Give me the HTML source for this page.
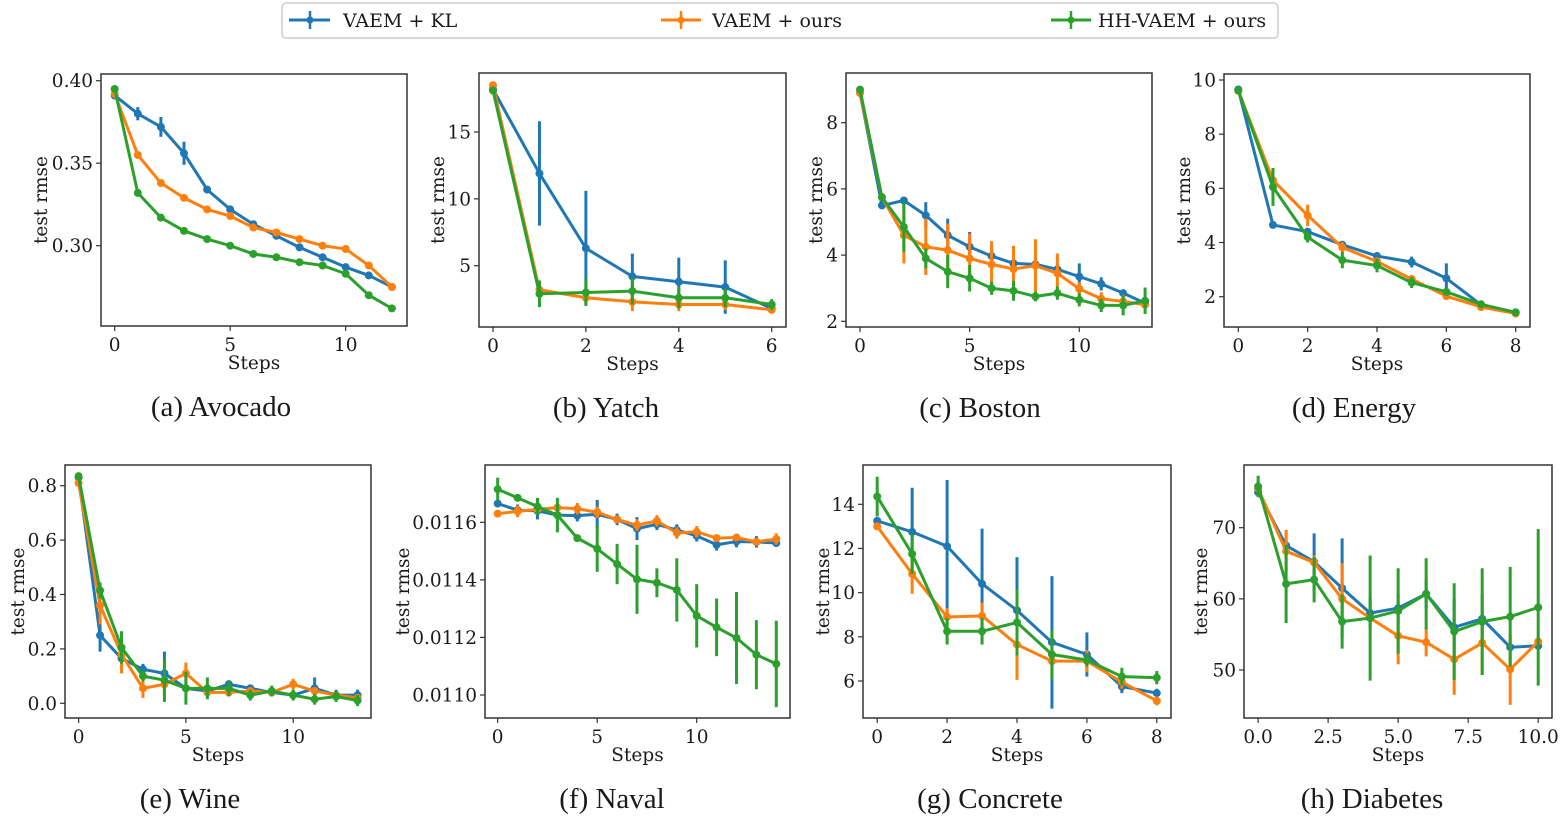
<!DOCTYPE html>
<html><head><meta charset="utf-8"><style>
html,body{margin:0;padding:0;background:#fff;}
svg{display:block;}
text{font-family:"DejaVu Serif","Liberation Serif",serif;fill:#1a1a1a;}
.cap{font-family:"Liberation Serif",serif;font-size:29px;}
</style></head><body>
<svg id="fig" width="1565" height="831" viewBox="0 0 1565 831">
<g>
<rect x="282" y="3" width="996" height="35" rx="4" fill="#fff" stroke="#ccc" stroke-width="1.5"/>
<g><line x1="289" y1="20" x2="330" y2="20" stroke="#1f77b4" stroke-width="3"/><line x1="310" y1="11" x2="310" y2="29" stroke="#1f77b4" stroke-width="2.5"/><circle cx="310" cy="20" r="3.5" fill="#1f77b4"/><text x="343" y="27" font-size="19">VAEM + KL</text></g>
<g><line x1="661" y1="20" x2="701" y2="20" stroke="#ff7f0e" stroke-width="3"/><line x1="681" y1="11" x2="681" y2="29" stroke="#ff7f0e" stroke-width="2.5"/><circle cx="681" cy="20" r="3.5" fill="#ff7f0e"/><text x="712" y="27" font-size="19">VAEM + ours</text></g>
<g><line x1="1051" y1="20" x2="1091" y2="20" stroke="#2ca02c" stroke-width="3"/><line x1="1071" y1="11" x2="1071" y2="29" stroke="#2ca02c" stroke-width="2.5"/><circle cx="1071" cy="20" r="3.5" fill="#2ca02c"/><text x="1098" y="27" font-size="19">HH-VAEM + ours</text></g>
</g>
</svg>
<script>
// ---- data ----
const avocadoSteps=[0,1,2,3,4,5,6,7,8,9,10,11,12];
const avocadoKL=[.391,.380,.372,.356,.334,.322,.313,.306,.299,.293,.287,.282,.275];
const avocadoKLErr=[0,.004,.006,.007,.002,.001,.001,.001,.001,.002,.001,.001,.001];
const avocadoOurs=[.392,.355,.338,.329,.322,.318,.311,.308,.304,.300,.298,.288,.275];
const avocadoOursErr=[0,.001,.001,.001,.001,.001,.001,.001,.001,.001,.001,.001,.002];
const avocadoHH=[.395,.332,.317,.309,.304,.300,.295,.293,.290,.288,.283,.270,.262];
const avocadoHHErr=[.001,.001,.002,.002,.001,.001,.001,.001,.001,.002,.002,.001,.001];

const yatchSteps=[0,1,2,3,4,5,6];
const yatchKL=[18.2,11.9,6.3,4.2,3.8,3.4,1.8];
const yatchKLErr=[0,3.9,4.3,1.7,1.8,2.0,0.3];
const yatchOurs=[18.5,3.2,2.6,2.3,2.1,2.1,1.7];
const yatchOursErr=[0,0.3,0.5,0.7,0.5,0.4,0.2];
const yatchHH=[18.1,2.9,3.0,3.1,2.6,2.6,2.1];
const yatchHHErr=[0,1.0,1.0,1.0,0.8,0.7,0.4];

const bostonSteps=[0,1,2,3,4,5,6,7,8,9,10,11,12,13];
const bostonKL=[8.9,5.5,5.65,5.2,4.6,4.25,3.97,3.75,3.72,3.57,3.35,3.13,2.85,2.55];
const bostonKLErr=[0,.1,.05,.4,.5,.45,.3,.2,.2,.2,.4,.2,.1,.1];
const bostonOurs=[8.9,5.75,4.6,4.25,4.15,3.9,3.72,3.58,3.68,3.45,2.98,2.68,2.6,2.5];
const bostonOursErr=[0,.1,.85,.85,.8,.75,.7,.7,.8,.6,.2,.2,.2,.1];
const bostonHH=[9.0,5.75,4.85,3.9,3.5,3.3,3.0,2.92,2.75,2.85,2.65,2.48,2.48,2.62];
const bostonHHErr=[0,.1,.75,.3,.5,.4,.2,.3,.15,.2,.2,.2,.3,.4];

const energySteps=[0,1,2,3,4,5,6,7,8];
const energyKL=[9.65,4.65,4.4,3.92,3.5,3.28,2.68,1.7,1.42];
const energyKLErr=[0,.05,.1,.1,.15,.2,.55,.05,.05];
const energyOurs=[9.6,6.3,5.0,3.82,3.3,2.65,2.02,1.62,1.38];
const energyOursErr=[0,.45,.4,.2,.15,.15,.1,.05,.05];
const energyHH=[9.62,6.05,4.2,3.35,3.15,2.52,2.18,1.72,1.42];
const energyHHErr=[0,.7,.2,.3,.25,.2,.1,.05,.05];

const wineSteps=[0,1,2,3,4,5,6,7,8,9,10,11,12,13];
const wineKL=[.83,.25,.165,.125,.11,.055,.045,.07,.055,.04,.03,.055,.03,.03];
const wineKLErr=[0,.06,.02,.02,.08,.01,.01,.01,.01,.005,.005,.04,.02,.02];
const wineOurs=[.81,.36,.18,.055,.07,.11,.04,.04,.045,.04,.07,.045,.03,.02];
const wineOursErr=[0,.07,.07,.035,.02,.04,.005,.005,.01,.005,.02,.01,.01,.01];
const wineHH=[.835,.415,.205,.1,.085,.055,.055,.055,.03,.045,.03,.015,.025,.01];
const wineHHErr=[0,.03,.06,.02,.08,.06,.04,.03,.02,.02,.02,.02,.02,.02];

const navalSteps=[0,1,2,3,4,5,6,7,8,9,10,11,12,13,14];
const navalKL=[.011665,.011642,.011640,.011625,.011623,.011628,.011610,.011578,.011593,.011573,.011553,.011522,.011533,.011532,.011528];
const navalKLErr=[.00001,.00002,.00003,.00001,.00002,.00005,.00002,.00004,.00002,.00002,.00002,.00002,.00002,.00002,.00001];
const navalOurs=[.011630,.011638,.011645,.011651,.011647,.011635,.011610,.011590,.011605,.011563,.011567,.011545,.011547,.011532,.011542];
const navalOursErr=[.00001,.00002,.00001,.00001,.00002,.00002,.00001,.00002,.00002,.00002,.00002,.00001,.00001,.00001,.00002];
const navalHH=[.011715,.011685,.011655,.011625,.011545,.011508,.011455,.011402,.011390,.011365,.011275,.011235,.011198,.011140,.011108];
const navalHHErr=[.00004,.00001,.00003,.00006,.00001,.00008,.00007,.00012,.00005,.00011,.00011,.0001,.00016,.00012,.00015];

const concreteSteps=[0,1,2,3,4,5,6,7,8];
const concreteKL=[13.25,12.75,12.1,10.4,9.2,7.75,7.2,5.75,5.45];
const concreteKLErr=[0,2.0,3.0,2.5,2.4,3.0,1.0,0.3,0.2];
const concreteOurs=[13.0,10.85,8.9,8.95,7.65,6.9,6.9,5.95,5.1];
const concreteOursErr=[0,0.9,0.4,0.6,1.6,0.8,0.5,0.3,0.2];
const concreteHH=[14.35,11.75,8.25,8.25,8.65,7.2,6.95,6.2,6.15];
const concreteHHErr=[0.9,0.9,0.6,0.6,1.5,1.1,0.3,0.4,0.3];

const diabetesSteps=[0,1,2,3,4,5,6,7,8,9,10];
const diabetesKL=[75,67.5,65.2,61.5,58,58.7,60.7,56,57.2,53.2,53.4];
const diabetesKLErr=[0.5,1,4,7,2,2,2,4,3.5,0.5,0.5];
const diabetesOurs=[75.5,66.7,65.1,60,57.3,54.8,53.9,51.5,53.8,50.1,54];
const diabetesOursErr=[0,3,1,5,0.5,4,2,5,4.5,5,0.5];
const diabetesHH=[75.8,62.1,62.7,56.8,57.3,58.3,60.7,55.4,56.8,57.5,58.8];
const diabetesHHErr=[1.5,5.5,3.2,3.8,8.8,6,5,6.8,7.5,7,11];

const avocadoYTicks=[0.30,0.35,0.40]; const avocadoYLabels=["0.30","0.35","0.40"];
const avocadoXTicks=[0,5,10]; const avocadoXLabels=["0","5","10"];
const yatchYTicks=[5,10,15]; const yatchYLabels=["5","10","15"];
const yatchXTicks=[0,2,4,6]; const yatchXLabels=["0","2","4","6"];
const bostonYTicks=[2,4,6,8]; const bostonYLabels=["2","4","6","8"];
const bostonXTicks=[0,5,10]; const bostonXLabels=["0","5","10"];
const energyYTicks=[2,4,6,8,10]; const energyYLabels=["2","4","6","8","10"];
const energyXTicks=[0,2,4,6,8]; const energyXLabels=["0","2","4","6","8"];
const wineYTicks=[0,0.2,0.4,0.6,0.8]; const wineYLabels=["0.0","0.2","0.4","0.6","0.8"];
const wineXTicks=[0,5,10]; const wineXLabels=["0","5","10"];
const navalYTicks=[0.011,0.0112,0.0114,0.0116]; const navalYLabels=["0.0110","0.0112","0.0114","0.0116"];
const navalXTicks=[0,5,10]; const navalXLabels=["0","5","10"];
const concreteYTicks=[6,8,10,12,14]; const concreteYLabels=["6","8","10","12","14"];
const concreteXTicks=[0,2,4,6,8]; const concreteXLabels=["0","2","4","6","8"];
const diabetesYTicks=[50,60,70]; const diabetesYLabels=["50","60","70"];
const diabetesXTicks=[0,2.5,5,7.5,10]; const diabetesXLabels=["0.0","2.5","5.0","7.5","10.0"];

// ---- layout ----
const panels=[
 {id:'avocado',cap:'(a)  Avocado',capx:221,box:[101,74,407,326],xd:[0,10],xr:[114.7,345.7],yd:[0.30,0.40],yr:[245.7,80.7],ylx:47,
  steps:avocadoSteps,s:[[avocadoKL,avocadoKLErr],[avocadoOurs,avocadoOursErr],[avocadoHH,avocadoHHErr]],yt:avocadoYTicks,yl:avocadoYLabels,xt:avocadoXTicks,xl:avocadoXLabels},
 {id:'yatch',cap:'(b)  Yatch',capx:606,box:[479,73,786,327],xd:[0,6],xr:[493,771.7],yd:[5,15],yr:[265.7,132],ylx:444,
  steps:yatchSteps,s:[[yatchKL,yatchKLErr],[yatchOurs,yatchOursErr],[yatchHH,yatchHHErr]],yt:yatchYTicks,yl:yatchYLabels,xt:yatchXTicks,xl:yatchXLabels},
 {id:'boston',cap:'(c)  Boston',capx:980,box:[846,73,1152,327],xd:[0,10],xr:[860,1079.3],yd:[2,8],yr:[321.3,122.7],ylx:822,
  steps:bostonSteps,s:[[bostonKL,bostonKLErr],[bostonOurs,bostonOursErr],[bostonHH,bostonHHErr]],yt:bostonYTicks,yl:bostonYLabels,xt:bostonXTicks,xl:bostonXLabels},
 {id:'energy',cap:'(d)  Energy',capx:1354,box:[1224,74,1530,327],xd:[0,8],xr:[1238.3,1515.7],yd:[2,10],yr:[296.7,80],ylx:1190,
  steps:energySteps,s:[[energyKL,energyKLErr],[energyOurs,energyOursErr],[energyHH,energyHHErr]],yt:energyYTicks,yl:energyYLabels,xt:energyXTicks,xl:energyXLabels},
 {id:'wine',cap:'(e)  Wine',capx:190,box:[65,465,371,718],xd:[0,10],xr:[78.6,293.2],yd:[0,0.8],yr:[703.3,485.7],ylx:24,
  steps:wineSteps,s:[[wineKL,wineKLErr],[wineOurs,wineOursErr],[wineHH,wineHHErr]],yt:wineYTicks,yl:wineYLabels,xt:wineXTicks,xl:wineXLabels},
 {id:'naval',cap:'(f)  Naval',capx:612,box:[485,465,790,718],xd:[0,10],xr:[497.7,696.7],yd:[0.011,0.0116],yr:[695,522.3],ylx:409,
  steps:navalSteps,s:[[navalKL,navalKLErr],[navalOurs,navalOursErr],[navalHH,navalHHErr]],yt:navalYTicks,yl:navalYLabels,xt:navalXTicks,xl:navalXLabels},
 {id:'concrete',cap:'(g)  Concrete',capx:990,box:[863,465,1171,718],xd:[0,8],xr:[877.2,1156.8],yd:[6,14],yr:[681,504.3],ylx:829,
  steps:concreteSteps,s:[[concreteKL,concreteKLErr],[concreteOurs,concreteOursErr],[concreteHH,concreteHHErr]],yt:concreteYTicks,yl:concreteYLabels,xt:concreteXTicks,xl:concreteXLabels},
 {id:'diabetes',cap:'(h)  Diabetes',capx:1372,box:[1244,465,1552,718],xd:[0,10],xr:[1258.1,1538.2],yd:[50,70],yr:[670,527.7],ylx:1207,
  steps:diabetesSteps,s:[[diabetesKL,diabetesKLErr],[diabetesOurs,diabetesOursErr],[diabetesHH,diabetesHHErr]],yt:diabetesYTicks,yl:diabetesYLabels,xt:diabetesXTicks,xl:diabetesXLabels}
];
const colors=['#1f77b4','#ff7f0e','#2ca02c'];
const seriesNames=['vaem-kl','vaem-ours','hhvaem-ours'];
const NS='http://www.w3.org/2000/svg';
const fig=document.getElementById('fig');
function mk(tag,attrs,parent){const e=document.createElementNS(NS,tag);for(const k in attrs)e.setAttribute(k,attrs[k]);parent.appendChild(e);return e;}
panels.forEach(p=>{
 const sx=v=>p.xr[0]+(v-p.xd[0])*(p.xr[1]-p.xr[0])/(p.xd[1]-p.xd[0]);
 const sy=v=>p.yr[0]+(v-p.yd[0])*(p.yr[1]-p.yr[0])/(p.yd[1]-p.yd[0]);
 const [x0,y0,x1,y1]=p.box;
 const g=mk('g',{},fig);
 
 
 const clipId='clip-'+p.id;
 const cp=mk('clipPath',{id:clipId},g);mk('rect',{x:x0,y:y0,width:x1-x0,height:y1-y0},cp);
 const plot=mk('g',{'clip-path':'url(#'+clipId+')'},g);
 
 
 p.s.forEach((ser,si)=>{
  const [vals,errs]=ser;const c=colors[si];
  const sg=mk('g',{},plot);
  
  
  vals.forEach((v,i)=>{if(errs[i]>0){const eb=mk('line',{x1:sx(p.steps[i]),x2:sx(p.steps[i]),y1:sy(v-errs[i]),y2:sy(v+errs[i]),stroke:c,'stroke-width':3},sg);
   
   }});
  const pts=vals.map((v,i)=>sx(p.steps[i]).toFixed(2)+','+sy(v).toFixed(2)).join(' ');
  const ln=mk('polyline',{points:pts,fill:'none',stroke:c,'stroke-width':3,'stroke-linejoin':'round'},sg);
  
  
  vals.forEach((v,i)=>{const m=mk('circle',{cx:sx(p.steps[i]),cy:sy(v),r:4,fill:c},sg);
   
   });
 });
 const fr=mk('rect',{x:x0,y:y0,width:x1-x0,height:y1-y0,fill:'none',stroke:'#333','stroke-width':1.5},g);
 
 
 p.yt.forEach((t,i)=>{const y=sy(t);mk('line',{x1:x0-5,x2:x0,y1:y,y2:y,stroke:'#333','stroke-width':1.2},g);
  const tx=mk('text',{x:x0-8,y:y+6.5,'text-anchor':'end','font-size':18.5},g);tx.textContent=p.yl[i];
  
  });
 p.xt.forEach((t,i)=>{const x=sx(t);mk('line',{x1:x,x2:x,y1:y1,y2:y1+5,stroke:'#333','stroke-width':1.2},g);
  const tx=mk('text',{x:x,y:y1+25,'text-anchor':'middle','font-size':18.5},g);tx.textContent=p.xl[i];
  
  });
 const xl=mk('text',{x:(x0+x1)/2,y:y1+43,'text-anchor':'middle','font-size':18.5},g);xl.textContent='Steps';
 
 
 const yc=(y0+y1)/2;
 const yl=mk('text',{x:p.ylx,y:yc,'text-anchor':'middle','font-size':18.5,transform:'rotate(-90 '+p.ylx+' '+yc+')'},g);yl.textContent='test rmse';
 
 
 const cap=mk('text',{x:p.capx,y:y1+90,'text-anchor':'middle',class:'cap','xml:space':'preserve'},g);cap.textContent=p.cap;
 
 
});
</script>
</body></html>
